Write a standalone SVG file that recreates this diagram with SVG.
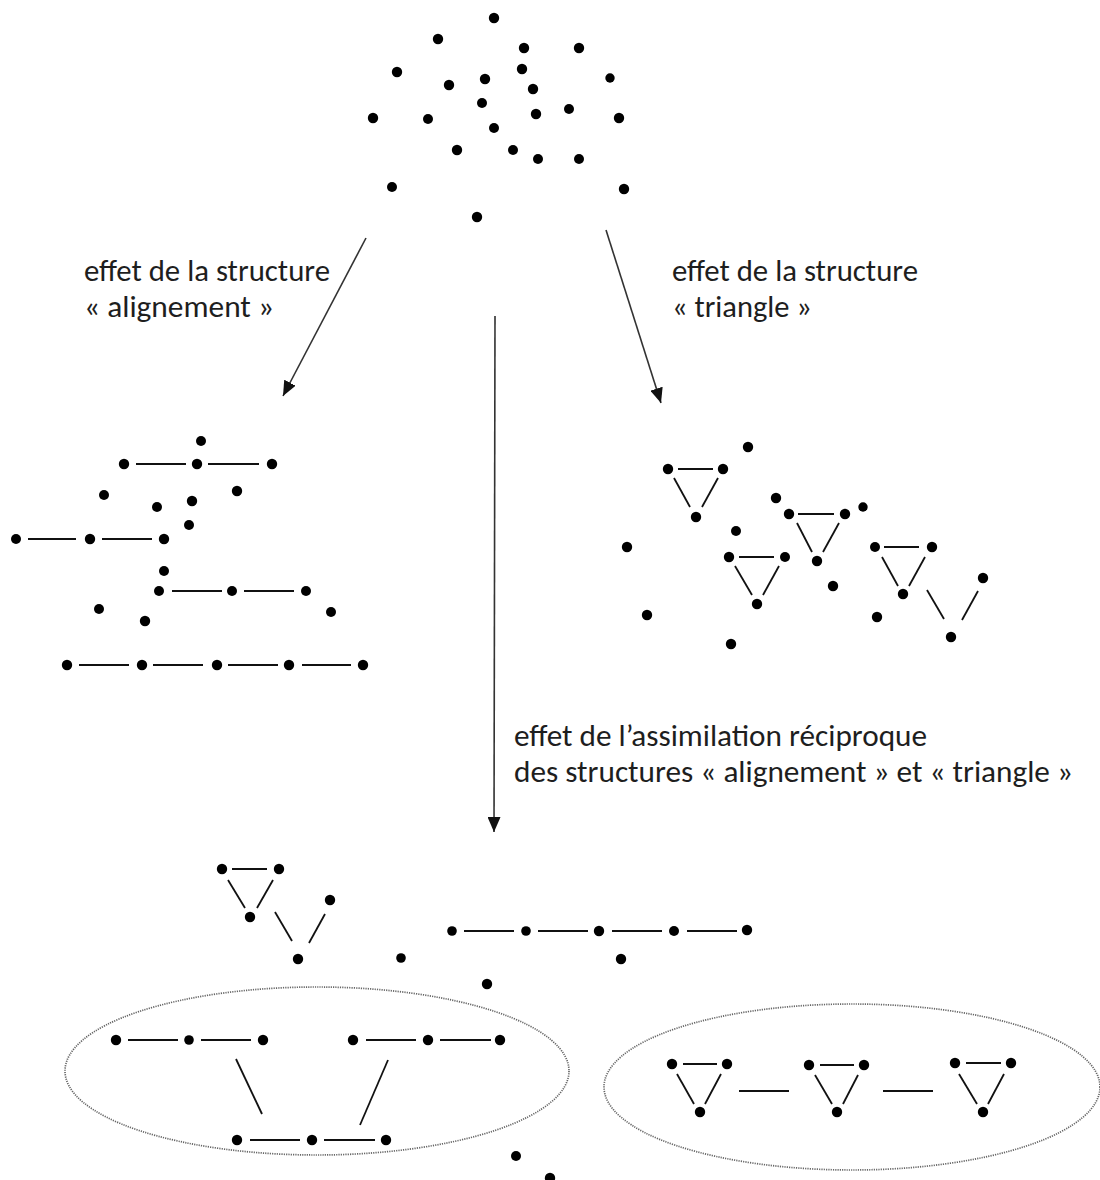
<svg xmlns="http://www.w3.org/2000/svg" width="1100" height="1180" viewBox="0 0 1100 1180">
<style>
.d{fill:#000}
.l{stroke:#111;stroke-width:1.8;fill:none;stroke-linecap:butt}
.a{stroke:#333;stroke-width:1.6;fill:none}
.e{stroke:#666;stroke-width:1.7;fill:none;stroke-dasharray:1.2 1.1}
.t{font-family:Carlito,Lato,"Open Sans",sans-serif;font-size:30px;fill:#1e1e1e}
</style>
<defs>
<marker id="ah" markerUnits="userSpaceOnUse" markerWidth="15" markerHeight="13" refX="15" refY="6.5" orient="auto">
<path d="M0,0 L15,6.5 L0,13 z" fill="#111"/>
</marker>
</defs>
<rect width="1100" height="1180" fill="#fff"/>

<g id="scatter">
<circle class="d" cx="494" cy="18" r="5.2"/>
<circle class="d" cx="438" cy="39" r="5.2"/>
<circle class="d" cx="524" cy="48" r="5.2"/>
<circle class="d" cx="579" cy="48" r="5.2"/>
<circle class="d" cx="397" cy="72" r="5.2"/>
<circle class="d" cx="522" cy="69" r="5.2"/>
<circle class="d" cx="485" cy="79" r="5.2"/>
<circle class="d" cx="449" cy="85" r="5.2"/>
<circle class="d" cx="533" cy="89" r="5.2"/>
<circle class="d" cx="610" cy="78" r="4.7"/>
<circle class="d" cx="482" cy="103" r="5"/>
<circle class="d" cx="373" cy="118" r="5.2"/>
<circle class="d" cx="428" cy="119" r="5"/>
<circle class="d" cx="536" cy="114" r="5.2"/>
<circle class="d" cx="569" cy="109" r="5"/>
<circle class="d" cx="619" cy="118" r="5.2"/>
<circle class="d" cx="494" cy="128" r="5"/>
<circle class="d" cx="457" cy="150" r="5.2"/>
<circle class="d" cx="513" cy="150" r="5"/>
<circle class="d" cx="538" cy="159" r="5"/>
<circle class="d" cx="579" cy="159" r="5"/>
<circle class="d" cx="392" cy="187" r="5"/>
<circle class="d" cx="624" cy="189" r="5.2"/>
<circle class="d" cx="477" cy="217" r="5.2"/>
</g>

<g id="labels">
<text class="t" x="84" y="281" textLength="246" lengthAdjust="spacingAndGlyphs">effet de la structure</text>
<text class="t" x="84" y="317" textLength="190" lengthAdjust="spacingAndGlyphs">« alignement »</text>
<text class="t" x="672" y="281" textLength="246" lengthAdjust="spacingAndGlyphs">effet de la structure</text>
<text class="t" x="672" y="317" textLength="140" lengthAdjust="spacingAndGlyphs">« triangle »</text>
<text class="t" x="514" y="746" textLength="413" lengthAdjust="spacingAndGlyphs">effet de l’assimilation réciproque</text>
<text class="t" x="514" y="782" textLength="559" lengthAdjust="spacingAndGlyphs">des structures « alignement » et « triangle »</text>
</g>

<g id="connectors">
<line class="a" x1="366" y1="238" x2="283" y2="396" marker-end="url(#ah)"/>
<line class="a" x1="606" y1="230" x2="661" y2="403" marker-end="url(#ah)"/>
<line class="a" x1="495" y1="316" x2="494" y2="832" marker-end="url(#ah)"/>
</g>

<g id="alignment">
<g class="dots">
<circle class="d" cx="201" cy="441" r="5"/>
<circle class="d" cx="124" cy="464" r="5.2"/>
<circle class="d" cx="197" cy="464" r="5.2"/>
<circle class="d" cx="272" cy="464" r="5.2"/>
<circle class="d" cx="104" cy="495" r="5"/>
<circle class="d" cx="237" cy="491" r="5.2"/>
<circle class="d" cx="157" cy="507" r="5"/>
<circle class="d" cx="192" cy="501" r="5.2"/>
<circle class="d" cx="189" cy="525" r="5"/>
<circle class="d" cx="16" cy="539" r="5"/>
<circle class="d" cx="90" cy="539" r="5.2"/>
<circle class="d" cx="164" cy="539" r="5.2"/>
<circle class="d" cx="164" cy="571" r="5"/>
<circle class="d" cx="159" cy="591" r="5"/>
<circle class="d" cx="232" cy="591" r="5"/>
<circle class="d" cx="306" cy="591" r="5"/>
<circle class="d" cx="99" cy="609" r="5"/>
<circle class="d" cx="145" cy="621" r="5.2"/>
<circle class="d" cx="331" cy="612" r="5"/>
<circle class="d" cx="67" cy="665" r="5.2"/>
<circle class="d" cx="142" cy="665" r="5.2"/>
<circle class="d" cx="217" cy="665" r="5.2"/>
<circle class="d" cx="289" cy="665" r="5.2"/>
<circle class="d" cx="363" cy="665" r="5.2"/>
</g>
<g class="links">
<line class="l" x1="136" y1="464" x2="186" y2="464"/>
<line class="l" x1="208" y1="464" x2="259" y2="464"/>
<line class="l" x1="28" y1="539" x2="76" y2="539"/>
<line class="l" x1="102" y1="539" x2="152" y2="539"/>
<line class="l" x1="172" y1="591" x2="222" y2="591"/>
<line class="l" x1="244" y1="591" x2="294" y2="591"/>
<line class="l" x1="79" y1="665" x2="129" y2="665"/>
<line class="l" x1="153" y1="665" x2="203" y2="665"/>
<line class="l" x1="228" y1="665" x2="278" y2="665"/>
<line class="l" x1="302" y1="665" x2="351" y2="665"/>
</g>
</g>

<g id="triangles">
<g class="dots">
<circle class="d" cx="748" cy="447" r="5.2"/>
<circle class="d" cx="668" cy="469" r="5.2"/>
<circle class="d" cx="723" cy="469" r="5.2"/>
<circle class="d" cx="696" cy="517" r="5.2"/>
<circle class="d" cx="776" cy="498" r="5.2"/>
<circle class="d" cx="863" cy="507" r="4.7"/>
<circle class="d" cx="789" cy="514" r="5.2"/>
<circle class="d" cx="845" cy="514" r="5.2"/>
<circle class="d" cx="817" cy="561" r="5.2"/>
<circle class="d" cx="736" cy="531" r="5"/>
<circle class="d" cx="627" cy="547" r="5.2"/>
<circle class="d" cx="729" cy="557" r="5.2"/>
<circle class="d" cx="785" cy="557" r="5"/>
<circle class="d" cx="757" cy="604" r="5.2"/>
<circle class="d" cx="875" cy="547" r="5"/>
<circle class="d" cx="932" cy="547" r="5.2"/>
<circle class="d" cx="903" cy="594" r="5.2"/>
<circle class="d" cx="833" cy="586" r="5.2"/>
<circle class="d" cx="983" cy="578" r="5.2"/>
<circle class="d" cx="951" cy="637" r="5.2"/>
<circle class="d" cx="877" cy="617" r="5.2"/>
<circle class="d" cx="647" cy="615" r="5.2"/>
<circle class="d" cx="731" cy="644" r="5.2"/>
</g>
<g class="links">
<line class="l" x1="678" y1="469" x2="713" y2="469"/>
<line class="l" x1="674" y1="478" x2="690" y2="507"/>
<line class="l" x1="718" y1="478" x2="702" y2="507"/>
<line class="l" x1="798" y1="514" x2="834" y2="514"/>
<line class="l" x1="797" y1="523" x2="812" y2="552"/>
<line class="l" x1="839" y1="523" x2="823" y2="552"/>
<line class="l" x1="739" y1="557" x2="774" y2="557"/>
<line class="l" x1="735" y1="566" x2="752" y2="595"/>
<line class="l" x1="779" y1="566" x2="763" y2="595"/>
<line class="l" x1="884" y1="547" x2="919" y2="547"/>
<line class="l" x1="882" y1="557" x2="898" y2="586"/>
<line class="l" x1="925" y1="557" x2="909" y2="586"/>
<line class="l" x1="927" y1="590" x2="944" y2="619"/>
<line class="l" x1="978" y1="591" x2="962" y2="620"/>
</g>
</g>

<g id="combined">
<g class="dots">
<circle class="d" cx="222" cy="869" r="5.2"/>
<circle class="d" cx="279" cy="869" r="5.2"/>
<circle class="d" cx="250" cy="917" r="5.2"/>
<circle class="d" cx="330" cy="900" r="5.2"/>
<circle class="d" cx="298" cy="959" r="5.2"/>
<circle class="d" cx="401" cy="958" r="4.8"/>
<circle class="d" cx="487" cy="984" r="5.2"/>
<circle class="d" cx="452" cy="931" r="4.8"/>
<circle class="d" cx="526" cy="931" r="4.8"/>
<circle class="d" cx="599" cy="931" r="5.2"/>
<circle class="d" cx="674" cy="931" r="5"/>
<circle class="d" cx="747" cy="930" r="5.2"/>
<circle class="d" cx="621" cy="959" r="5.2"/>
<circle class="d" cx="516" cy="1156" r="5"/>
<circle class="d" cx="550" cy="1178" r="5.2"/>
</g>
<g class="links">
<line class="l" x1="232" y1="869" x2="267" y2="869"/>
<line class="l" x1="228" y1="880" x2="245" y2="908"/>
<line class="l" x1="273" y1="880" x2="257" y2="908"/>
<line class="l" x1="275" y1="912" x2="292" y2="941"/>
<line class="l" x1="325" y1="914" x2="309" y2="943"/>
<line class="l" x1="464" y1="931" x2="514" y2="931"/>
<line class="l" x1="538" y1="931" x2="588" y2="931"/>
<line class="l" x1="612" y1="931" x2="662" y2="931"/>
<line class="l" x1="687" y1="931" x2="737" y2="931"/>
</g>
</g>

<g id="group-alignment">
<ellipse class="e" cx="317" cy="1071" rx="252" ry="84"/>
<g class="dots">
<circle class="d" cx="116" cy="1040" r="5.2"/>
<circle class="d" cx="189" cy="1040" r="4.8"/>
<circle class="d" cx="263" cy="1040" r="5.2"/>
<circle class="d" cx="353" cy="1040" r="5.2"/>
<circle class="d" cx="428" cy="1040" r="5.2"/>
<circle class="d" cx="500" cy="1040" r="5.2"/>
<circle class="d" cx="237" cy="1140" r="5.2"/>
<circle class="d" cx="312" cy="1140" r="5.2"/>
<circle class="d" cx="386" cy="1140" r="5.2"/>
</g>
<g class="links">
<line class="l" x1="128" y1="1040" x2="178" y2="1040"/>
<line class="l" x1="201" y1="1040" x2="251" y2="1040"/>
<line class="l" x1="366" y1="1040" x2="416" y2="1040"/>
<line class="l" x1="440" y1="1040" x2="491" y2="1040"/>
<line class="l" x1="236" y1="1059" x2="262" y2="1114"/>
<line class="l" x1="388" y1="1060" x2="360" y2="1125"/>
<line class="l" x1="250" y1="1140" x2="300" y2="1140"/>
<line class="l" x1="324" y1="1140" x2="375" y2="1140"/>
</g>
</g>

<g id="group-triangle">
<ellipse class="e" cx="852" cy="1087" rx="248" ry="83"/>
<g class="dots">
<circle class="d" cx="672" cy="1064" r="5.2"/>
<circle class="d" cx="727" cy="1064" r="5.2"/>
<circle class="d" cx="700" cy="1112" r="5.2"/>
<circle class="d" cx="809" cy="1065" r="5.2"/>
<circle class="d" cx="864" cy="1065" r="5.2"/>
<circle class="d" cx="837" cy="1112" r="5.2"/>
<circle class="d" cx="955" cy="1063" r="5.2"/>
<circle class="d" cx="1011" cy="1063" r="5.2"/>
<circle class="d" cx="983" cy="1112" r="5.2"/>
</g>
<g class="links">
<line class="l" x1="683" y1="1064" x2="717" y2="1064"/>
<line class="l" x1="677" y1="1074" x2="694" y2="1104"/>
<line class="l" x1="721" y1="1074" x2="705" y2="1104"/>
<line class="l" x1="820" y1="1065" x2="854" y2="1065"/>
<line class="l" x1="815" y1="1075" x2="832" y2="1104"/>
<line class="l" x1="858" y1="1075" x2="843" y2="1104"/>
<line class="l" x1="966" y1="1063" x2="1001" y2="1063"/>
<line class="l" x1="959" y1="1074" x2="977" y2="1104"/>
<line class="l" x1="1004" y1="1074" x2="988" y2="1104"/>
<line class="l" x1="739" y1="1091" x2="789" y2="1091"/>
<line class="l" x1="883" y1="1091" x2="933" y2="1091"/>
</g>
</g>
</svg>
